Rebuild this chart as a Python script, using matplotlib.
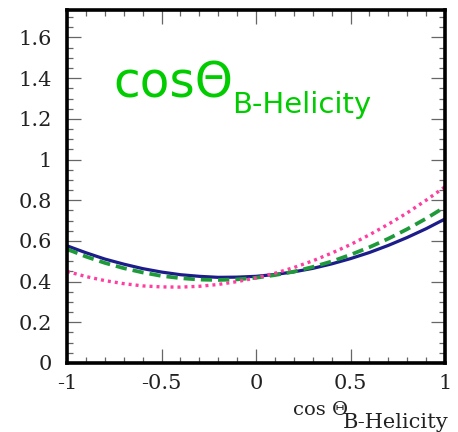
import matplotlib
matplotlib.use("Agg")
import matplotlib.pyplot as plt
from matplotlib.ticker import MultipleLocator

# values at cos(theta) = -1 .. 1, step 0.1
cos_theta = [-1.0, -0.9, -0.8, -0.7, -0.6, -0.5, -0.4, -0.3, -0.2, -0.1, 0.0,
             0.1, 0.2, 0.3, 0.4, 0.5, 0.6, 0.7, 0.8, 0.9, 1.0]
solid_curve = [0.576, 0.542, 0.511, 0.486, 0.464, 0.447, 0.434, 0.426, 0.421, 0.422, 0.426,
               0.435, 0.448, 0.465, 0.487, 0.513, 0.543, 0.578, 0.617, 0.660, 0.708]
dashed_curve = [0.560, 0.523, 0.492, 0.466, 0.445, 0.428, 0.417, 0.410, 0.408, 0.411, 0.419,
                0.432, 0.449, 0.472, 0.499, 0.532, 0.569, 0.611, 0.658, 0.710, 0.767]
dotted_curve = [0.450, 0.425, 0.405, 0.390, 0.379, 0.374, 0.373, 0.377, 0.386, 0.400, 0.418,
                0.441, 0.469, 0.502, 0.540, 0.582, 0.630, 0.682, 0.738, 0.800, 0.866]

x_ticks = [-1, -0.5, 0, 0.5, 1]
x_ticklabels = ["-1", "-0.5", "0", "0.5", "1"]
y_ticks = [0, 0.2, 0.4, 0.6, 0.8, 1.0, 1.2, 1.4, 1.6]
y_ticklabels = ["0", "0.2", "0.4", "0.6", "0.8", "1", "1.2", "1.4", "1.6"]

fig = plt.figure(figsize=(4.58, 4.32), dpi=100)
ax = fig.add_axes([67 / 458, 1 - 363 / 432, 378 / 458, 353 / 432])

ax.plot(cos_theta, solid_curve, color="#1c1c8a", lw=2.3, solid_capstyle="butt")
ax.plot(cos_theta, dashed_curve, color="#1f9a3a", lw=2.7, dashes=(3.0, 1.6))
ax.plot(cos_theta, dotted_curve, color="#ff3ea0", lw=2.4, dashes=(0.9, 1.2))

ax.set_xlim(-1, 1)
ax.set_ylim(0, 1.735)
ax.set_xticks(x_ticks)
ax.set_xticklabels(x_ticklabels)
ax.set_yticks(y_ticks)
ax.set_yticklabels(y_ticklabels)
ax.xaxis.set_minor_locator(MultipleLocator(0.1))
ax.yaxis.set_minor_locator(MultipleLocator(0.05))

ax.tick_params(which="both", direction="in", top=True, right=True,
               color="#666666", width=0.9)
ax.tick_params(which="major", length=10)
ax.tick_params(which="minor", length=4.5)
ax.tick_params(axis="y", pad=11)
ax.tick_params(axis="x", pad=8)
for lab in ax.get_xticklabels() + ax.get_yticklabels():
    lab.set_fontfamily("DejaVu Serif")
    lab.set_fontsize(15)
    lab.set_color("#222222")

for sp in ax.spines.values():
    sp.set_linewidth(2.6)
    sp.set_color("black")

# green title inside the plot
fig.text(113 / 458, 1 - 98 / 432, "cosΘ", color="#00cc00", fontsize=35,
         family="DejaVu Sans", va="baseline", ha="left")
fig.text(232 / 458, 1 - 113 / 432, "B-Helicity", color="#00cc00", fontsize=21,
         family="DejaVu Sans", va="baseline", ha="left")

# axis label
fig.text(293 / 458, 1 - 415 / 432, "cos Θ", color="#222222", fontsize=14,
         family="DejaVu Serif", va="baseline", ha="left")
fig.text(343 / 458, 1 - 428 / 432, "B-Helicity", color="#222222", fontsize=15,
         family="DejaVu Serif", va="baseline", ha="left")

fig.savefig("out.png", dpi=100)
